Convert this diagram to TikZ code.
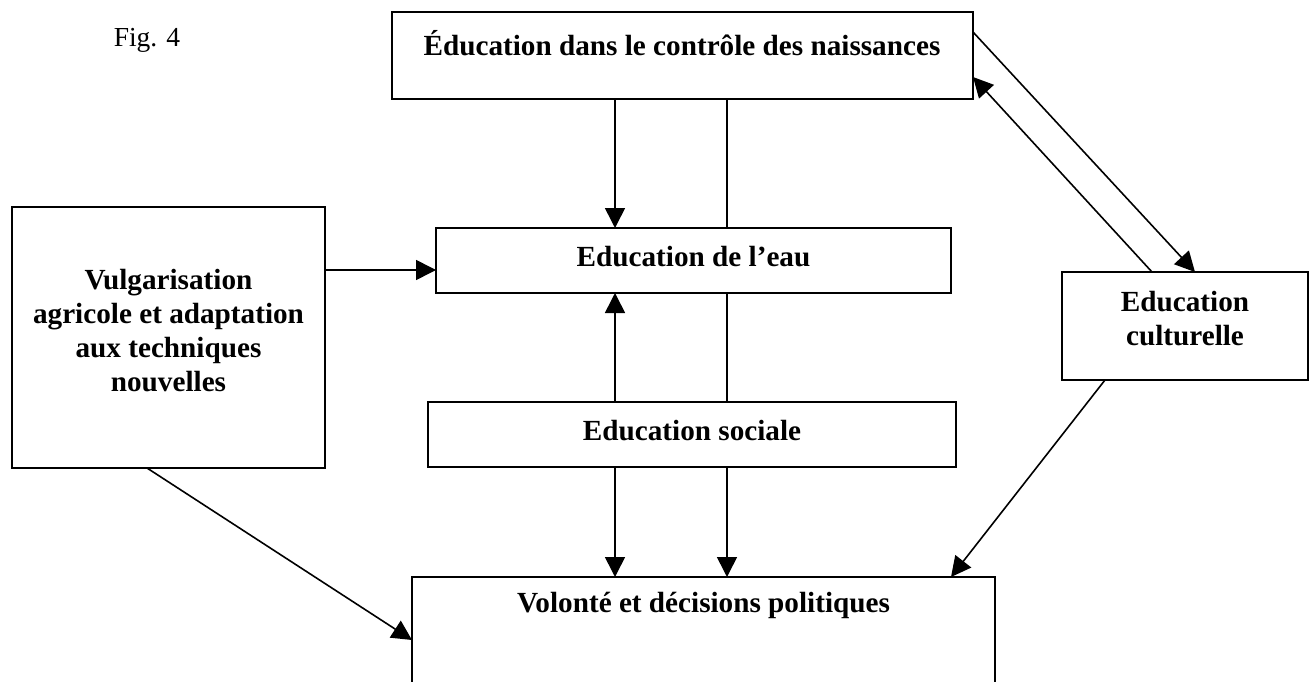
\documentclass[tikz,border=0pt]{standalone}
\usepackage{fontspec}
\setmainfont{Liberation Serif}
\usetikzlibrary{arrows.meta}
\begin{document}
\begin{tikzpicture}[x=1pt,y=-1pt,
  box/.style={draw, line width=2pt, inner sep=0pt, outer sep=0pt, rectangle},
  lbl/.style={font=\bfseries\fontsize{29.2}{34}\selectfont, align=center, inner sep=0pt},
  arr/.style={line width=1.6pt, -{Triangle[length=20pt,width=20pt]}},
  ln/.style={line width=1.6pt}]
\useasboundingbox (0,0) rectangle (1315,682);
\clip (0,0) rectangle (1315,682);
\fill[white] (0,0) rectangle (1315,682);
% boxes
\node[box, minimum width=581pt, minimum height=87pt] (top) at (682.5,55.5) {};
\node[box, minimum width=515pt, minimum height=65pt] (eau) at (693.5,260.5) {};
\node[box, minimum width=313pt, minimum height=261pt] (vulg) at (168.5,337.5) {};
\node[box, minimum width=246pt, minimum height=108pt] (cult) at (1185,326) {};
\node[box, minimum width=528pt, minimum height=65pt] (soc) at (692,434.5) {};
\node[box, minimum width=583pt, minimum height=123pt] (vol) at (703.5,638.5) {};
% texts
\node[lbl] (topT) at (682,43) {Éducation dans le contrôle des naissances};
\node[lbl] (eauT) at (693.5,257) {Education de l’eau};
\node[lbl] (vulgT) at (168.5,331) {Vulgarisation\\agricole et adaptation\\aux techniques\\nouvelles};
\node[lbl] (cultT) at (1185,319) {Education\\culturelle};
\node[lbl] (socT) at (692,431) {Education sociale};
\node[lbl] (volT) at (703.5,605) {Volonté et décisions politiques};
\node[font=\fontsize{27.5}{32}\selectfont, inner sep=0pt] (fig) at (147,40) {Fig. 4};
% connectors
\draw[arr] ([xshift=223pt]top.south west) -- ([xshift=179pt]eau.north west);
\draw[ln] ([xshift=335pt]top.south west) -- ([xshift=291pt]eau.north west);
\coordinate (v1) at ([yshift=-63pt]vulg.north east);
\draw[arr] (v1) -- (v1 -| eau.west);
\draw[arr] ([xshift=187pt]soc.north west) -- ([xshift=179pt]eau.south west);
\draw[ln] ([xshift=291pt]eau.south west) -- ([xshift=299pt]soc.north west);
\draw[arr] ([xshift=187pt]soc.south west) -- ([xshift=203pt]vol.north west);
\draw[arr] ([xshift=299pt]soc.south west) -- ([xshift=315pt]vol.north west);
\draw[arr] ([xshift=135pt]vulg.south west) -- ([yshift=-1.5pt]vol.west);
\draw[arr] ([xshift=43pt]cult.south west) -- ([xshift=539pt]vol.north west);
\draw[arr] ([yshift=-20pt]top.north east) -- ([xshift=133pt]cult.north west);
\draw[arr] ([xshift=90pt]cult.north west) -- ([yshift=-65pt]top.north east);
\end{tikzpicture}
\end{document}
